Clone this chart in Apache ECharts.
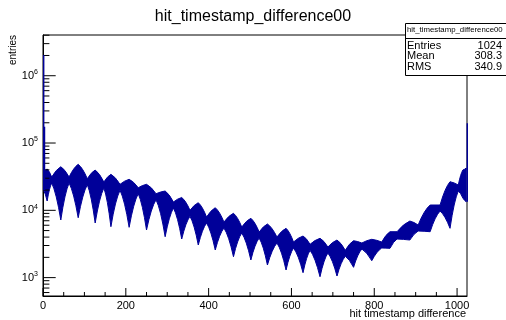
<!DOCTYPE html>
<html>
<head>
<meta charset="utf-8">
<script src="https://cdn.jsdelivr.net/npm/echarts@6/dist/echarts.min.js"></script>
<style>
  html, body { margin: 0; padding: 0; background: #fff; }
  #chart { width: 506px; height: 320px; }
</style>
</head>
<body>
<div id="chart"></div>
<script>
// histogram read off the picture as an envelope: narrow "pinch" points between lobes
// and lobe centres where the bin-to-bin spread is widest
const pinchX = [1, 21, 63, 107, 147, 186, 230, 273, 315, 355, 395, 437, 480, 522, 565, 605, 645, 688, 730, 770, 818, 855, 906, 959, 1003, 1022];
const pinchHigh = [37080, 31240, 31240, 29480, 26340, 24340, 21670, 17650, 13290, 10000, 7950, 6700, 5650, 4760, 4010, 3381, 3125, 2849, 2544, 3267, 3381, 4810, 6050, 11990, 23770, 42510];
const pinchLow = [20030, 25440, 25440, 24010, 21450, 19830, 17650, 14370, 10820, 8140, 6480, 5460, 4600, 3876, 3267, 2753, 2544, 2320, 2073, 2661, 2753, 3746, 4925, 9760, 19360, 13420];

const lobeX = [10, 43, 85, 126, 164, 208, 250, 295, 335, 375, 416, 460, 502, 542, 587, 628, 669, 710, 750, 794, 838, 886, 935, 983, 1014];
const lobeHigh = [41090, 44440, 48260, 39710, 34260, 28880, 24340, 19360, 15500, 12970, 10930, 9030, 7610, 6260, 5400, 4150, 3840, 3621, 3535, 3708, 4810, 6930, 11990, 26610, 39710];
const lobeLow = [13750, 7180, 7760, 6480, 5710, 5590, 5100, 4050, 3746, 3051, 2571, 2045, 1826, 1539, 1297, 1183, 1031, 1056, 1422, 1783, 2725, 3621, 4810, 5400, 15230];

// single tall bins
const spikeX = [0, 2, 1023];
const spikeHigh = [2030000, 174700, 196200];
const spikeLow = [20000, 20000, 13420];

const xMajor = [0, 200, 400, 600, 800, 1000];
const xMinor = [50, 100, 150, 250, 300, 350, 450, 500, 550, 650, 700, 750, 850, 900, 950];
const yMajor = [1000, 10000, 100000, 1000000];
const yMinor = [600, 700, 800, 900, 2000, 3000, 4000, 5000, 6000, 7000, 8000, 9000,
  20000, 30000, 40000, 50000, 60000, 70000, 80000, 90000,
  200000, 300000, 400000, 500000, 600000, 700000, 800000, 900000,
  2000000, 3000000, 4000000];

const statsTitle = 'hit_timestamp_difference00';
const statsNames = ['Entries', 'Mean', 'RMS'];
const statsValues = ['1024', '308.3', '340.9'];

const yMin = 533;
const yMax = 4030000;
const lineColor = '#000099';
const font = 'Liberation Sans, Arial, Helvetica, sans-serif';

const chart = echarts.init(document.getElementById('chart'));

function lerp(a, b, t) {
  return a + (b - a) * t;
}

function renderBand(params, api) {
  const up = [];
  const lo = [];
  for (let i = 0; i < pinchX.length; i++) {
    up.push(api.coord([pinchX[i], pinchHigh[i]]));
    lo.push(api.coord([pinchX[i], pinchLow[i]]));
    if (i < lobeX.length) {
      up.push(api.coord([lobeX[i], lobeHigh[i]]));
      lo.push(api.coord([lobeX[i], lobeLow[i]]));
    }
  }
  // top edge: rounded domes, bottom edge: narrowing downward spikes
  let d = 'M' + up[0][0] + ' ' + up[0][1];
  for (let k = 1; k < up.length; k++) {
    const a = up[k - 1], b = up[k];
    const lobe = k % 2 === 1 ? b : a;
    const pin = k % 2 === 1 ? a : b;
    const cx = lerp(a[0], b[0], 0.5);
    const cy = lerp(lobe[1], pin[1], 0.25);
    d += ' Q' + cx + ' ' + cy + ' ' + b[0] + ' ' + b[1];
  }
  const last = lo[lo.length - 1];
  d += ' L' + last[0] + ' ' + last[1];
  for (let k = lo.length - 2; k >= 0; k--) {
    const a = lo[k + 1], b = lo[k];
    const lobe = k % 2 === 1 ? b : a;
    const pin = k % 2 === 1 ? a : b;
    const cx = lerp(lobe[0], pin[0], 0.5);
    const cy = lerp(lobe[1], pin[1], 0.75);
    d += ' Q' + cx + ' ' + cy + ' ' + b[0] + ' ' + b[1];
  }
  d += ' Z';
  return {
    type: 'path',
    shape: { pathData: d },
    style: { fill: lineColor, stroke: lineColor, lineWidth: 1 }
  };
}

function renderSpike(params, api) {
  const p1 = api.coord([api.value(0) + 0.5, api.value(1)]);
  const p2 = api.coord([api.value(0) + 0.5, api.value(2)]);
  return {
    type: 'line',
    shape: { x1: p1[0] + 0.5, y1: p1[1], x2: p2[0] + 0.5, y2: p2[1] },
    style: { stroke: lineColor, lineWidth: 1.4 }
  };
}

function renderTicks(params, api) {
  const cs = params.coordSys;
  const bottom = cs.y + cs.height;
  const left = cs.x;
  const kids = [];
  const tick = (x1, y1, x2, y2) => kids.push({
    type: 'line',
    shape: { x1, y1, x2, y2 },
    style: { stroke: '#000', lineWidth: 1 }
  });
  xMajor.forEach(v => { const x = api.coord([v, yMin])[0]; tick(x, bottom, x, bottom - 8); });
  xMinor.forEach(v => { const x = api.coord([v, yMin])[0]; tick(x, bottom, x, bottom - 4); });
  yMajor.forEach(v => { const y = api.coord([0, v])[1]; tick(left, y, left + 12.7, y); });
  yMinor.forEach(v => { const y = api.coord([0, v])[1]; tick(left, y, left + 6.4, y); });
  return { type: 'group', children: kids };
}

const statsTexts = [];
statsNames.forEach((name, i) => {
  statsTexts.push({
    type: 'text', left: 407, top: 40 + i * 10.5,
    style: { text: name, fill: '#000', font: '11px ' + font }
  });
  statsTexts.push({
    type: 'text', right: 4, top: 40 + i * 10.5,
    style: { text: statsValues[i], fill: '#000', font: '11px ' + font, align: 'right' }
  });
});

const option = {
  animation: false,
  title: {
    text: 'hit_timestamp_difference00',
    left: 'center',
    top: 4,
    textStyle: { fontFamily: font, fontSize: 16, fontWeight: 'normal', color: '#000' }
  },
  grid: {
    left: 43, top: 35, right: 39, bottom: 24,
    show: true, borderColor: '#000', borderWidth: 1, backgroundColor: '#fff'
  },
  xAxis: {
    type: 'value',
    min: 0,
    max: 1024,
    interval: 200,
    axisLine: { show: true, lineStyle: { color: '#000' } },
    axisTick: { show: false },
    splitLine: { show: false },
    axisLabel: {
      color: '#000', fontFamily: font, fontSize: 11, margin: 4,
      formatter: v => (v % 200 === 0 ? String(v) : '')
    }
  },
  yAxis: {
    type: 'log',
    min: yMin,
    max: yMax,
    splitNumber: 4,
    axisLine: { show: true, lineStyle: { color: '#000' } },
    axisTick: { show: false },
    splitLine: { show: false },
    axisLabel: {
      margin: 5,
      formatter: v => {
        const e = Math.log10(v);
        if (Math.abs(e - Math.round(e)) > 1e-6) return '';
        return '{b|10}{s|' + Math.round(e) + '}';
      },
      rich: {
        b: { fontFamily: font, fontSize: 11, color: '#000' },
        s: { fontFamily: font, fontSize: 7, color: '#000', padding: [0, 0, 7, 0] }
      }
    }
  },
  series: [
    {
      type: 'custom',
      clip: true,
      data: [0],
      renderItem: renderBand,
      z: 2
    },
    {
      type: 'custom',
      clip: false,
      data: spikeX.map((x, i) => [x, spikeLow[i], spikeHigh[i]]),
      renderItem: renderSpike,
      z: 5
    },
    {
      type: 'custom',
      clip: false,
      data: [0],
      renderItem: renderTicks,
      z: 4
    }
  ],
  graphic: [
    {
      type: 'text', right: 40, top: 308,
      style: { text: 'hit timestamp difference', fill: '#000', font: '11px ' + font, align: 'right' }
    },
    {
      type: 'text', left: 8, top: 35, rotation: Math.PI / 2,
      style: { text: 'entries', fill: '#000', font: '10px ' + font, align: 'right' }
    },
    {
      type: 'group',
      left: 403, top: 23,
      z: 10,
      children: [
        { type: 'rect', shape: { x: 0, y: 0, width: 102, height: 52 }, style: { fill: '#fff', stroke: '#000', lineWidth: 1 } },
        { type: 'line', shape: { x1: 0, y1: 15, x2: 102, y2: 15 }, style: { stroke: '#000', lineWidth: 1 } }
      ]
    },
    {
      type: 'text', left: 407, top: 26, z: 11,
      style: { text: statsTitle, fill: '#000', font: '7.8px ' + font }
    },
    ...statsTexts.map(t => Object.assign({ z: 11 }, t))
  ]
};

chart.setOption(option);
</script>
</body>
</html>
